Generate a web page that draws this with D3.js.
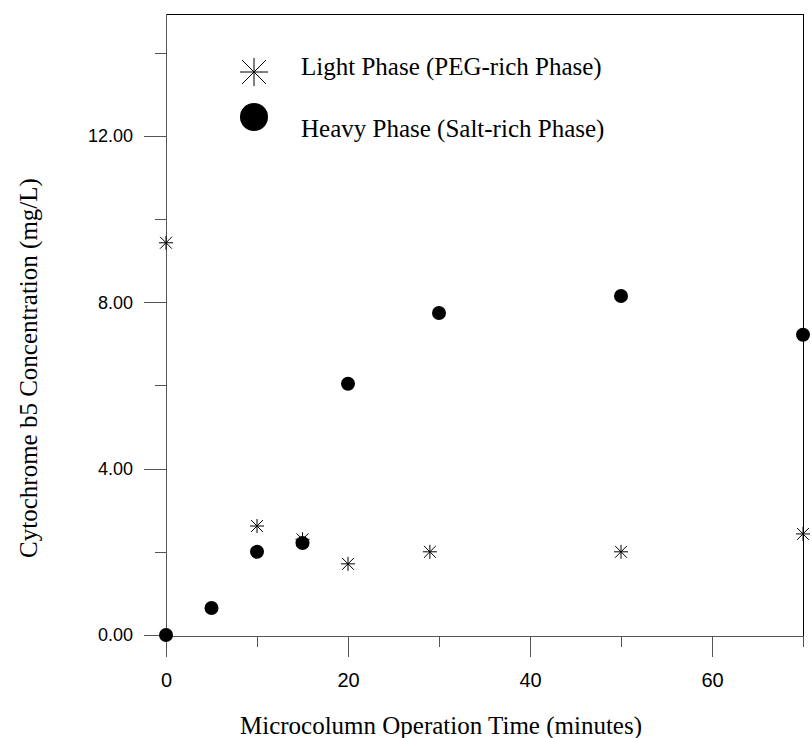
<!DOCTYPE html>
<html>
<head>
<meta charset="utf-8">
<script src="https://cdn.jsdelivr.net/npm/d3@7"></script>
<style>
  body { margin: 0; background: #fff; }
  svg { display: block; }
</style>
</head>
<body>
<div id="chart"></div>
<script>
!(function(){
    "use strict"

    var width = 812;
    var height = 738;

    // Light phase (PEG-rich), asterisks
    var lightTime = [0, 10, 15, 20, 29, 50, 70];
    var lightConc = [9.43, 2.62, 2.3, 1.71, 2.0, 2.0, 2.43];

    // Heavy phase (salt-rich), filled circles
    var heavyTime = [0, 5, 10, 15, 20, 30, 50, 70];
    var heavyConc = [0, 0.65, 2.0, 2.21, 6.04, 7.74, 8.15, 7.22];

    var xMajor = [0, 20, 40, 60];
    var xMinor = [10, 30, 50, 70];
    var yMajor = [0, 4, 8, 12];
    var yMinor = [2, 6, 10, 14];

    var legendLabels = ["Light Phase (PEG-rich Phase)", "Heavy Phase (Salt-rich Phase)"];

    var x = d3.scaleLinear().domain([0, 70]).range([166, 803]);
    var y = d3.scaleLinear().domain([0, 14.93]).range([635, 14]);

    var svg = d3.select("#chart").append("svg")
        .attr("width", width)
        .attr("height", height);

    var axisColor = "#555";

    // frame: top and right
    svg.append("path")
        .attr("d", "M" + x(0) + "," + y.range()[1] + "H" + x(70) + "V" + (y(0) + 1))
        .attr("fill", "none")
        .attr("stroke", "#000")
        .attr("stroke-width", 1)
        .attr("shape-rendering", "crispEdges");

    // y axis
    var yAxisG = svg.append("g").attr("transform", "translate(" + x(0) + ",0)");
    yAxisG.call(d3.axisLeft(y).tickValues(yMajor).tickSize(22).tickPadding(11)
        .tickFormat(d3.format(".2f")));
    yAxisG.append("g").call(d3.axisLeft(y).tickValues(yMinor).tickSize(11).tickFormat(""))
        .select(".domain").remove();

    // x axis
    var xAxisG = svg.append("g").attr("transform", "translate(0," + (y(0) + 1) + ")");
    xAxisG.call(d3.axisBottom(x).tickValues(xMajor).tickSize(21).tickPadding(16)
        .tickFormat(d3.format("d")));
    xAxisG.append("g").call(d3.axisBottom(x).tickValues(xMinor).tickSize(11).tickFormat(""))
        .select(".domain").remove();

    svg.selectAll(".domain")
        .attr("d", null);
    yAxisG.select(".domain").remove();
    xAxisG.select(".domain").remove();

    svg.append("line")
        .attr("x1", x(0)).attr("x2", x(0))
        .attr("y1", y.range()[1]).attr("y2", y(0) + 1)
        .attr("stroke", axisColor).attr("shape-rendering", "crispEdges");
    svg.append("line")
        .attr("x1", x(0)).attr("x2", x(70))
        .attr("y1", y(0) + 1).attr("y2", y(0) + 1)
        .attr("stroke", axisColor).attr("shape-rendering", "crispEdges");

    svg.selectAll(".tick line")
        .attr("stroke", axisColor)
        .attr("shape-rendering", "crispEdges");
    yAxisG.selectAll(".tick text")
        .attr("font-family", "'Liberation Sans', Arial, sans-serif")
        .attr("font-size", 18)
        .attr("fill", "#000");
    xAxisG.selectAll(".tick text")
        .attr("font-family", "'Liberation Sans', Arial, sans-serif")
        .attr("font-size", 20)
        .attr("fill", "#000");

    // axis titles
    svg.append("text")
        .attr("x", 441)
        .attr("y", 734)
        .attr("text-anchor", "middle")
        .attr("font-family", "'Liberation Serif', 'Times New Roman', serif")
        .attr("font-size", 25)
        .text("Microcolumn Operation Time (minutes)");

    svg.append("text")
        .attr("transform", "translate(37,368) rotate(-90)")
        .attr("text-anchor", "middle")
        .attr("font-family", "'Liberation Serif', 'Times New Roman', serif")
        .attr("font-size", 25)
        .text("Cytochrome b5 Concentration (mg/L)");

    function asterisk(r) {
        var d = r * 0.85;
        return "M" + (-r) + ",0H" + r +
               "M0," + (-r) + "V" + r +
               "M" + (-d) + "," + (-d) + "L" + d + "," + d +
               "M" + (-d) + "," + d + "L" + d + "," + (-d);
    }

    var lightData = lightTime.map(function(t, i){ return {t: t, c: lightConc[i]}; });
    var heavyData = heavyTime.map(function(t, i){ return {t: t, c: heavyConc[i]}; });

    svg.append("g").selectAll("path")
        .data(lightData)
        .enter().append("path")
        .attr("transform", function(d){ return "translate(" + x(d.t) + "," + y(d.c) + ")"; })
        .attr("d", asterisk(7))
        .attr("stroke", "#000")
        .attr("stroke-width", 1)
        .attr("fill", "none");

    svg.append("g").selectAll("circle")
        .data(heavyData)
        .enter().append("circle")
        .attr("cx", function(d){ return x(d.t); })
        .attr("cy", function(d){ return y(d.c); })
        .attr("r", 7)
        .attr("fill", "#000");

    // legend
    var legend = svg.append("g");
    legend.append("path")
        .attr("transform", "translate(254,72)")
        .attr("d", asterisk(14))
        .attr("stroke", "#000")
        .attr("stroke-width", 1)
        .attr("fill", "none");
    legend.append("circle")
        .attr("cx", 254).attr("cy", 117).attr("r", 14)
        .attr("fill", "#000");
    legend.selectAll("text")
        .data(legendLabels)
        .enter().append("text")
        .attr("x", 301)
        .attr("y", function(d, i){ return i === 0 ? 75 : 137; })
        .attr("font-family", "'Liberation Serif', 'Times New Roman', serif")
        .attr("font-size", 25)
        .attr("fill", "#000")
        .text(function(d){ return d; });

}());
</script>
</body>
</html>
